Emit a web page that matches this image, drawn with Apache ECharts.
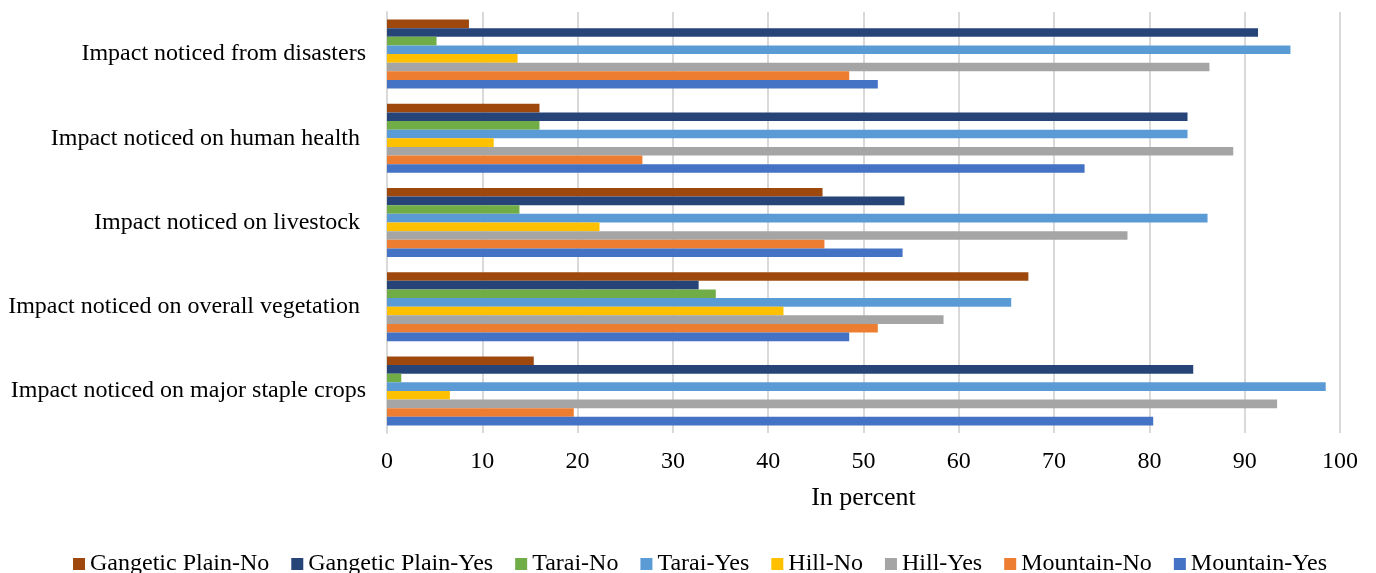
<!DOCTYPE html>
<html>
<head>
<meta charset="utf-8">
<script src="https://cdn.jsdelivr.net/npm/echarts@6/dist/echarts.min.js"></script>
<style>
html,body{margin:0;padding:0;background:#fff;}
#chart{width:1376px;height:573px;}
</style>
</head>
<body>
<div id="chart"></div>
<script>
// Categories, bottom to top
var categories = [
  "Impact noticed on major staple crops",
  "Impact noticed on overall vegetation ",
  "Impact noticed on livestock ",
  "Impact noticed on human health ",
  "Impact noticed from disasters"
];
var seriesNames = [
  "Gangetic Plain-No", "Gangetic Plain-Yes", "Tarai-No", "Tarai-Yes",
  "Hill-No", "Hill-Yes", "Mountain-No", "Mountain-Yes"
];
var seriesColors = [
  "#9E480E", "#264478", "#70AD47", "#5B9BD5",
  "#FFC000", "#A5A5A5", "#ED7D31", "#4472C4"
];
var gangeticNo  = [15.4, 67.3, 45.7, 16.0, 8.6];
var gangeticYes = [84.6, 32.7, 54.3, 84.0, 91.4];
var taraiNo     = [1.5, 34.5, 13.9, 16.0, 5.2];
var taraiYes    = [98.5, 65.5, 86.1, 84.0, 94.8];
var hillNo      = [6.6, 41.6, 22.3, 11.2, 13.7];
var hillYes     = [93.4, 58.4, 77.7, 88.8, 86.3];
var mountainNo  = [19.6, 51.5, 45.9, 26.8, 48.5];
var mountainYes = [80.4, 48.5, 54.1, 73.2, 51.5];
var xTicks = [0, 10, 20, 30, 40, 50, 60, 70, 80, 90, 100];

var seriesData = [gangeticNo, gangeticYes, taraiNo, taraiYes, hillNo, hillYes, mountainNo, mountainYes];
var FONT = "'Liberation Serif', 'Times New Roman', serif";

var series = seriesNames.map(function (n, i) {
  return {
    name: n,
    type: 'bar',
    data: seriesData[i],
    barGap: '0%',
    barCategoryGap: '18%',
    itemStyle: { color: seriesColors[i] },
    animation: false
  };
});

var chart = echarts.init(document.getElementById('chart'), null, {renderer: 'canvas'});
chart.setOption({
  backgroundColor: '#fff',
  animation: false,
  grid: { left: 387, right: 36, top: 12, bottom: 140, containLabel: false },
  legend: {
    data: seriesNames,
    top: 547,
    left: 68,
    itemWidth: 12,
    itemHeight: 12,
    itemGap: 22,
    icon: 'rect',
    textStyle: { fontFamily: FONT, fontSize: 24, color: '#000' }
  },
  xAxis: {
    type: 'value',
    min: xTicks[0],
    max: xTicks[xTicks.length - 1],
    interval: 10,
    name: 'In percent',
    nameLocation: 'middle',
    nameGap: 52,
    nameTextStyle: { fontFamily: FONT, fontSize: 26, color: '#000' },
    axisLine: { show: false },
    axisTick: { show: false },
    axisLabel: { fontFamily: FONT, fontSize: 24, color: '#000', margin: 17 },
    splitLine: { show: true, lineStyle: { color: '#d9d9d9', width: 2 } }
  },
  yAxis: {
    type: 'category',
    data: categories,
    axisLine: { show: true, lineStyle: { color: '#d9d9d9', width: 2 } },
    axisTick: { show: false },
    axisLabel: { fontFamily: FONT, fontSize: 24, color: '#000', margin: 21 }
  },
  series: series
});
</script>
</body>
</html>
